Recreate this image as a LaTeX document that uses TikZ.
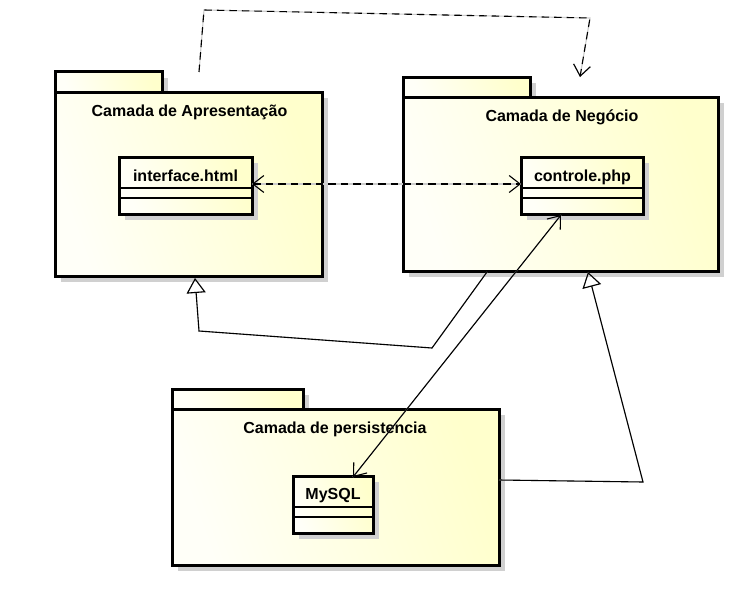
\documentclass[tikz,border=0pt]{standalone}
\usepackage{fontspec}
\setmainfont{Liberation Sans}
\usetikzlibrary{arrows.meta,shadows}
\definecolor{paleA}{RGB}{255,255,248}
\definecolor{paleB}{RGB}{255,255,204}
\definecolor{shcol}{RGB}{208,208,208}
\definecolor{lshcol}{RGB}{204,204,204}
\begin{document}
\begin{tikzpicture}[x=1pt,y=-1pt,
  boxbase/.style={draw=black, line width=3pt, left color=paleA, right color=paleB, shading angle=110,
    drop shadow={shadow xshift=6pt,shadow yshift=-6pt,fill=shcol,opacity=1},
    inner sep=0pt, outer sep=0pt, rectangle},
  pkg/.style={boxbase},
  cls/.style={boxbase},
  ttl/.style={font=\bfseries\fontsize{16}{19}\selectfont, anchor=base, inner sep=0pt},
  sep/.style={line width=1.3pt},
  con/.style={line width=1.1pt, black},
  shl/.style={line width=1.1pt, lshcol},
  dep/.style={dash pattern=on 7.5pt off 5pt},
  barb/.tip={Straight Barb[length=11pt,width=17pt,line width=1.1pt]},
  gtri/.tip={Triangle[open,length=15pt,width=19pt,line width=1.1pt]}
]
\useasboundingbox (0,0) rectangle (752,602);
\fill[white] (0,0) rectangle (752,602);

% packages
\node[pkg, minimum width=107pt, minimum height=20pt] (apresT) at (108.5,82) {};
\node[pkg, minimum width=267pt, minimum height=184pt] (apres) at (188.5,184) {};
\node[pkg, minimum width=127pt, minimum height=20pt] (negT) at (466.5,87) {};
\node[pkg, minimum width=315pt, minimum height=174pt] (neg) at (560.5,184) {};
\node[pkg, minimum width=131pt, minimum height=20pt] (perT) at (237.5,399) {};
\node[pkg, minimum width=327pt, minimum height=156pt] (per) at (335.5,487) {};

\node[ttl] (apresN) at (189.5,116) {Camada de Apresentação};
\node[ttl] (negN) at (562,121) {Camada de Negócio};
\node[ttl] (perN) at (335,433) {Camada de persistencia};

% classes
\node[cls, minimum width=133pt, minimum height=57pt] (iface) at (185.5,185.5) {};
\node[cls, minimum width=122pt, minimum height=57pt] (ctrl) at (582,185.5) {};
\node[cls, minimum width=80pt, minimum height=57pt] (mysql) at (333,504.5) {};

\node[ttl] (ifaceN) at (185.5,181) {interface.html};
\node[ttl] (ctrlN) at (582.5,181) {controle.php};
\node[ttl] (mysqlN) at (333,499) {MySQL};

\draw[sep] (iface.west |- 0,188) -- (iface.east |- 0,188);
\draw[sep] (iface.west |- 0,198) -- (iface.east |- 0,198);
\draw[sep] (ctrl.west |- 0,188) -- (ctrl.east |- 0,188);
\draw[sep] (ctrl.west |- 0,198) -- (ctrl.east |- 0,198);
\draw[sep] (mysql.west |- 0,507) -- (mysql.east |- 0,507);
\draw[sep] (mysql.west |- 0,517) -- (mysql.east |- 0,517);

% connector way points
\coordinate (d0) at (199,72);
\coordinate (d1) at (204,10);
\coordinate (d2) at (590,18);
\coordinate (d3) at (580,77);
\coordinate (ia) at (252,184);
\coordinate (ca) at (521,184);
\coordinate (g1a) at (487,272);
\coordinate (g1b) at (432,348);
\coordinate (g1c) at (199,331);
\coordinate (g1d) at (195,278);
\coordinate (aa) at (561,215);
\coordinate (ab) at (353,477);
\coordinate (g2a) at (499,480);
\coordinate (g2b) at (643,482);
\coordinate (g2c) at (588,272);

% shadows of connectors
\begin{scope}[shift={(6,6)}]
\draw[shl, -{Straight Barb[length=11pt,width=17pt,line width=1.1pt]}] (d0) -- (d1) -- (d2) -- (d3);
\draw[shl] (ia) -- (ca);
\draw[shl, -{Triangle[open,length=15pt,width=19pt,line width=1.1pt]}] (g1a) -- (g1b) -- (g1c) -- (g1d);
\draw[shl] (aa) -- (ab);
\draw[shl, -{Triangle[open,length=15pt,width=19pt,line width=1.1pt]}] (g2a) -- (g2b) -- (g2c);
\end{scope}

% connectors
\draw[con, dep, -barb] (d0) -- (d1) -- (d2) -- (d3);
\draw[con, dep, barb-barb] (iface.east |- ia) -- (ctrl.west |- ca);
\draw[con, -gtri] (g1a) -- (g1b) -- (g1c) -- (g1d);
\draw[con, barb-barb] (aa) -- (ab);
\draw[con, -gtri] (g2a) -- (g2b) -- (g2c);
\end{tikzpicture}
\end{document}
